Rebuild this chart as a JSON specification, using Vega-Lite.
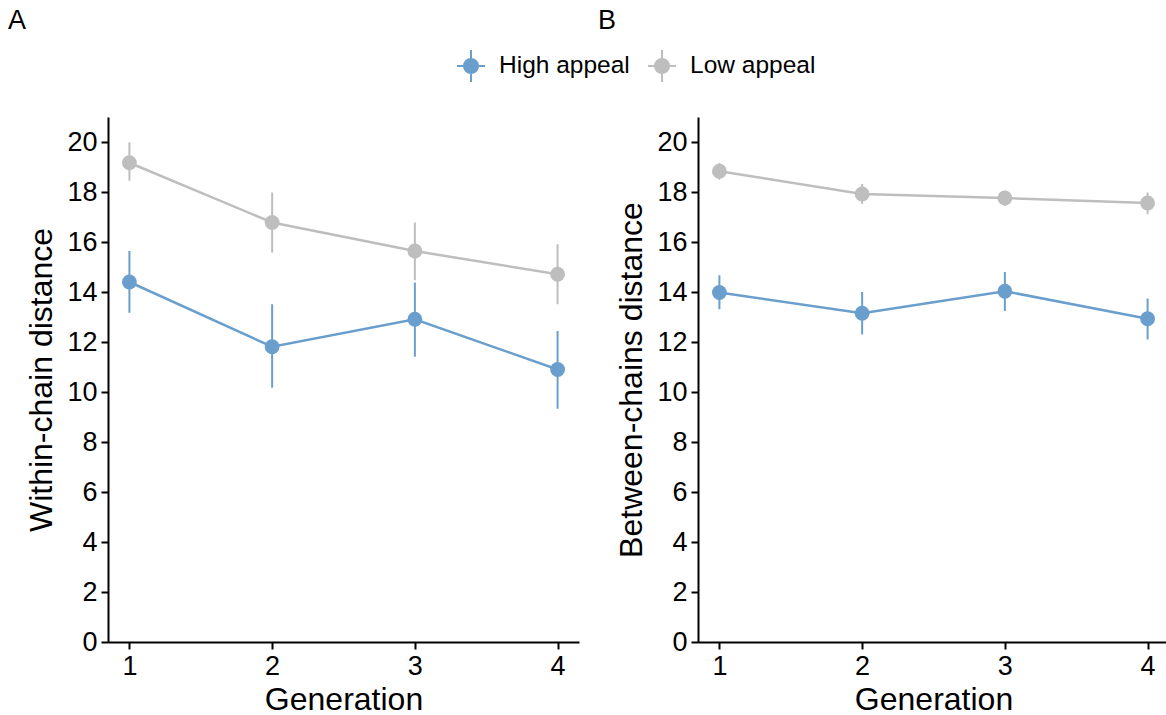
{
  "$schema": "https://vega.github.io/schema/vega-lite/v6.json",
  "background": "white",
  "padding": {"left": 7, "top": 7, "right": 0, "bottom": 0},
  "spacing": 18,
  "config": {
    "font": "Liberation Sans",
    "view": {"stroke": null},
    "axis": {
      "grid": false,
      "domainColor": "black",
      "domainWidth": 2,
      "tickColor": "black",
      "tickWidth": 2,
      "tickSize": 7,
      "labelFontSize": 27,
      "labelColor": "black",
      "labelPadding": 4,
      "titleFontSize": 32,
      "titleFontWeight": "normal",
      "titleColor": "black"
    },
    "title": {"fontSize": 27, "fontWeight": "normal", "color": "black", "anchor": "start", "frame": "bounds", "baseline": "alphabetic", "offset": 82, "dx": -18},
    "legend": {"labelFontSize": 24.5, "labelColor": "black"}
  },
  "data": {
    "values": [
      {"panel": "A", "generation": 1, "group": "Low appeal", "mean": 19.17, "lo": 18.45, "hi": 19.99},
      {"panel": "A", "generation": 2, "group": "Low appeal", "mean": 16.78, "lo": 15.58, "hi": 17.98},
      {"panel": "A", "generation": 3, "group": "Low appeal", "mean": 15.64, "lo": 14.47, "hi": 16.78},
      {"panel": "A", "generation": 4, "group": "Low appeal", "mean": 14.71, "lo": 13.51, "hi": 15.91},
      {"panel": "A", "generation": 1, "group": "High appeal", "mean": 14.40, "lo": 13.17, "hi": 15.64},
      {"panel": "A", "generation": 2, "group": "High appeal", "mean": 11.81, "lo": 10.17, "hi": 13.51},
      {"panel": "A", "generation": 3, "group": "High appeal", "mean": 12.91, "lo": 11.41, "hi": 14.38},
      {"panel": "A", "generation": 4, "group": "High appeal", "mean": 10.90, "lo": 9.33, "hi": 12.44},
      {"panel": "B", "generation": 1, "group": "Low appeal", "mean": 18.83, "lo": 18.49, "hi": 19.16},
      {"panel": "B", "generation": 2, "group": "Low appeal", "mean": 17.92, "lo": 17.52, "hi": 18.32},
      {"panel": "B", "generation": 3, "group": "Low appeal", "mean": 17.76, "lo": 17.45, "hi": 18.05},
      {"panel": "B", "generation": 4, "group": "Low appeal", "mean": 17.56, "lo": 17.11, "hi": 17.98},
      {"panel": "B", "generation": 1, "group": "High appeal", "mean": 13.98, "lo": 13.31, "hi": 14.67},
      {"panel": "B", "generation": 2, "group": "High appeal", "mean": 13.15, "lo": 12.30, "hi": 14.00},
      {"panel": "B", "generation": 3, "group": "High appeal", "mean": 14.03, "lo": 13.24, "hi": 14.80},
      {"panel": "B", "generation": 4, "group": "High appeal", "mean": 12.93, "lo": 12.10, "hi": 13.74}
    ]
  },
  "hconcat": [
    {
      "title": {"text": "A"},
      "width": 471,
      "height": 525,
      "transform": [{"filter": "datum.panel === 'A'"}],
      "encoding": {
        "x": {"field": "generation", "type": "quantitative", "scale": {"domain": [0.85, 4.15], "nice": false, "zero": false}, "axis": {"values": [1, 2, 3, 4], "format": "d", "title": "Generation", "titlePadding": 5}},
        "color": {"field": "group", "type": "nominal", "scale": {"domain": ["High appeal", "Low appeal"], "range": ["#6A9FCD", "#BEBEBE"]},
          "legend": {"orient": "none", "direction": "horizontal", "legendX": 346, "legendY": -68, "title": null, "symbolType": "M-0.44,0A0.44,0.44,0,1,1,0.44,0A0.44,0.44,0,1,1,-0.44,0Z M-0.875,0L0.875,0 M0,-1L0,1", "symbolSize": 1024, "labelOffset": 11, "columnPadding": 14,
            "encode": {"symbols": {"update": {"fill": {"scale": "color", "field": "value"}, "stroke": {"scale": "color", "field": "value"}, "strokeWidth": {"value": 2}, "opacity": {"value": 1}}}}}}
      },
      "layer": [
        {"mark": {"type": "rule", "strokeWidth": 2}, "encoding": {"y": {"field": "lo", "type": "quantitative", "scale": {"domain": [0, 21], "nice": false}, "axis": {"values": [0, 2, 4, 6, 8, 10, 12, 14, 16, 18, 20], "title": "Within-chain distance", "titlePadding": 8}}, "y2": {"field": "hi"}}},
        {"mark": {"type": "line", "strokeWidth": 2.5}, "encoding": {"y": {"field": "mean", "type": "quantitative"}}},
        {"mark": {"type": "point", "filled": true, "size": 220, "opacity": 1}, "encoding": {"y": {"field": "mean", "type": "quantitative"}}}
      ]
    },
    {
      "title": {"text": "B"},
      "width": 471,
      "height": 525,
      "transform": [{"filter": "datum.panel === 'B'"}],
      "encoding": {
        "x": {"field": "generation", "type": "quantitative", "scale": {"domain": [0.85, 4.15], "nice": false, "zero": false}, "axis": {"values": [1, 2, 3, 4], "format": "d", "title": "Generation", "titlePadding": 5}},
        "color": {"field": "group", "type": "nominal", "scale": {"domain": ["High appeal", "Low appeal"], "range": ["#6A9FCD", "#BEBEBE"]}}
      },
      "layer": [
        {"mark": {"type": "rule", "strokeWidth": 2}, "encoding": {"y": {"field": "lo", "type": "quantitative", "scale": {"domain": [0, 21], "nice": false}, "axis": {"values": [0, 2, 4, 6, 8, 10, 12, 14, 16, 18, 20], "title": "Between-chains distance", "titlePadding": 8}}, "y2": {"field": "hi"}}},
        {"mark": {"type": "line", "strokeWidth": 2.5}, "encoding": {"y": {"field": "mean", "type": "quantitative"}}},
        {"mark": {"type": "point", "filled": true, "size": 220, "opacity": 1}, "encoding": {"y": {"field": "mean", "type": "quantitative"}}}
      ]
    }
  ]
}
